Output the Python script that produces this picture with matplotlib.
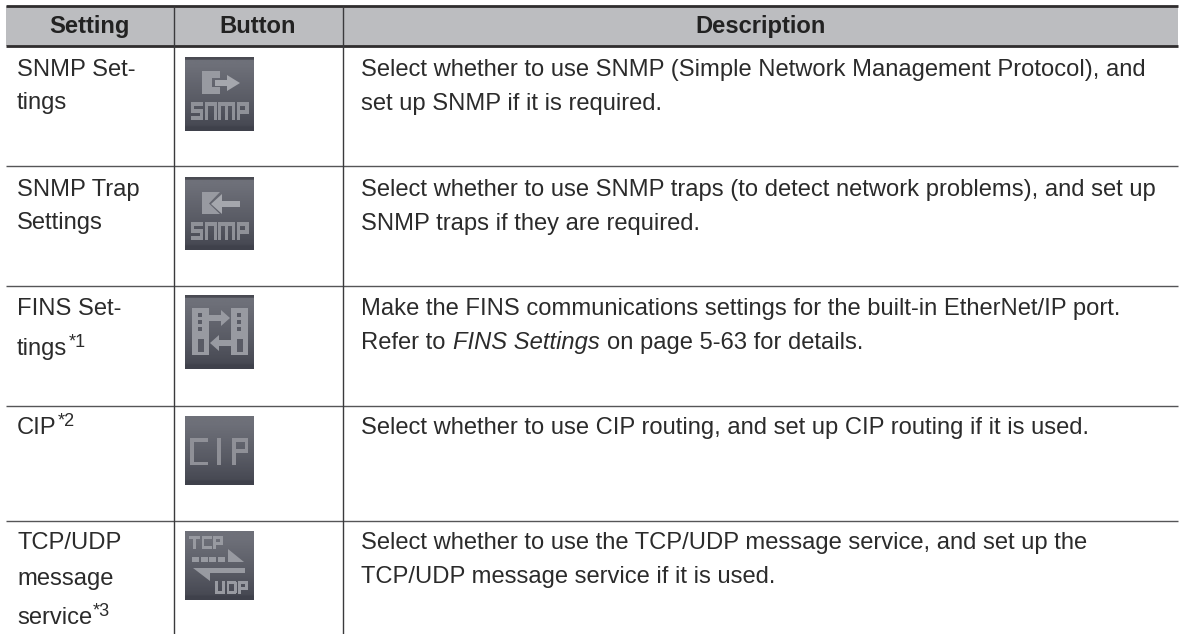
import numpy as np
import matplotlib
matplotlib.use("Agg")
import matplotlib.pyplot as plt
from matplotlib.patches import Polygon, Rectangle

plt.rcParams['font.family'] = ['Liberation Sans', 'DejaVu Sans']

headers = ["Setting", "Button", "Description"]
setting_lines = [
    [[("SNMP Set-", "n")], [("tings", "n")]],
    [[("SNMP Trap", "n")], [("Settings", "n")]],
    [[("FINS Set-", "n")], [("tings", "n"), ("*1", "s")]],
    [[("CIP", "n"), ("*2", "s")]],
    [[("TCP/UDP", "n")], [("message", "n")], [("service", "n"), ("*3", "s")]],
]
description_lines = [
    [[("Select whether to use SNMP (Simple Network Management Protocol), and", "n")],
     [("set up SNMP if it is required.", "n")]],
    [[("Select whether to use SNMP traps (to detect network problems), and set up", "n")],
     [("SNMP traps if they are required.", "n")]],
    [[("Make the FINS communications settings for the built-in EtherNet/IP port.", "n")],
     [("Refer to ", "n"), ("FINS Settings", "i"), (" on page 5-63 for details.", "n")]],
    [[("Select whether to use CIP routing, and set up CIP routing if it is used.", "n")]],
    [[("Select whether to use the TCP/UDP message service, and set up the", "n")],
     [("TCP/UDP message service if it is used.", "n")]],
]
icon_names = ["snmp_out", "snmp_in", "fins", "cip", "tcpudp"]
row_lines_y = [166, 286, 406, 521]
icon_tops = [57, 177, 295, 416, 531]
icon_heights = [74, 73, 74, 69, 69]
setting_baselines = [[76, 109], [196, 229], [315, 355], [434], [549, 585, 624]]
description_baselines = [[76, 110], [196, 230], [315, 349], [434], [549, 583]]

W, H = 1180, 634
fig = plt.figure(figsize=(W / 100, H / 100), dpi=100)
ax = fig.add_axes([0, 0, 1, 1])
ax.set_xlim(0, W)
ax.set_ylim(H, 0)
ax.axis("off")

L, R, T, HB, B = 6, 1178, 6, 46, 634
C1, C2 = 173.5, 342.5
TXT = "#2b2b2b"
LINE = "#3a3a3c"
FS = 17.08
ICON_X, ICON_W = 185, 69
GLYPH = "#989aa1"

ax.add_patch(Rectangle((L, T), R - L, HB - T, fc="#bcbdc0", ec="none", zorder=1))
ax.plot([L, R], [T, T], color="#2f2d2e", lw=2.0, zorder=3, solid_capstyle="butt")
ax.plot([L, R], [HB, HB], color="#2f2d2e", lw=2.0, zorder=3, solid_capstyle="butt")
for y in row_lines_y:
    ax.plot([L, R], [y, y], color="#555557", lw=1.0, zorder=3, solid_capstyle="butt")
for x in (C1, C2):
    ax.plot([x, x], [T, B], color=LINE, lw=1.0, zorder=3, solid_capstyle="butt")

for text, cx in zip(headers, [(L + C1) / 2 - 0.5, (C1 + C2) / 2, (C2 + R) / 2]):
    ax.text(cx, 33, text, ha="center", va="baseline", fontsize=FS, fontweight="bold",
            color="#222222", zorder=4)

renderer = fig.canvas.get_renderer()


def draw_runs(x, base, runs):
    for s, kind in runs:
        kw = dict(fontsize=FS, color=TXT, va="baseline", ha="left", zorder=4)
        y = base
        if kind == "i":
            kw["style"] = "italic"
        if kind == "s":
            kw["fontsize"] = FS * 0.76
            y = base - 8
        leading = len(s) - len(s.lstrip(" "))
        trailing = len(s) - len(s.rstrip(" "))
        t = ax.text(x + leading * 6.6, y, s.strip(" "), **kw)
        x = t.get_window_extent(renderer).x1 + 1 + trailing * 6.6


for sb, db, s, d in zip(setting_baselines, description_baselines, setting_lines, description_lines):
    for b, runs in zip(sb, s):
        draw_runs(17, b, runs)
    for b, runs in zip(db, d):
        draw_runs(361, b, runs)


def glyph_poly(pts, x0, y0, color=GLYPH):
    ax.add_patch(Polygon([(x0 + a, y0 + b) for a, b in pts], closed=True, fc=color, ec="none", zorder=6))


def glyph_rect(a, b, w, h, x0, y0, color=GLYPH):
    ax.add_patch(Rectangle((x0 + a, y0 + b), w, h, fc=color, ec="none", zorder=6))


# Block lettering for the button captions, as (x, y, w, h) in a 0..1 letter cell.
BLOCK = {
    "S": [(0, 0, 1, .2), (0, 0, .25, .6), (0, .4, 1, .2), (.75, .4, .25, .6), (0, .8, 1, .2)],
    "n": [(0, 0, .25, 1), (0, 0, 1, .2), (.75, 0, .25, 1)],
    "m": [(0, 0, .2, 1), (0, 0, 1, .2), (.4, 0, .2, 1), (.8, 0, .2, 1)],
    "P": [(0, 0, .28, 1), (0, 0, 1, .22), (.72, 0, .28, .65), (0, .45, 1, .22)],
    "T": [(0, 0, 1, .22), (.35, 0, .3, 1)],
    "C": [(0, 0, .28, 1), (0, 0, 1, .22), (0, .78, 1, .22)],
    "U": [(0, 0, .28, 1), (.72, 0, .28, 1), (0, .78, 1, .22)],
    "D": [(0, 0, .28, 1), (0, 0, .9, .22), (.72, .1, .28, .8), (0, .78, .9, .22)],
}


def block_word(word, widths, gap, a, b, h, x0, y0, color=GLYPH):
    x = a
    for ch, w in zip(word, widths):
        for (u, v, uw, vh) in BLOCK[ch]:
            glyph_rect(x + u * w, b + v * h, uw * w, vh * h, x0, y0, color)
        x += w + gap


def draw_icon(name, x0, y0, h):
    stops = np.interp(np.linspace(0, 1, 80), [0, .1, .6, .93, .95, 1], [0, 0, .55, 1, 1.2, 1.2])
    top = np.array([0x6e, 0x70, 0x79]) / 255
    bot = np.array([0x47, 0x49, 0x53]) / 255
    img = (top[None, :] + (bot - top)[None, :] * stops[:, None])[:, None, :]
    if name in ("snmp_out", "snmp_in", "fins"):
        img[:3] = np.array([0x4a, 0x4b, 0x53]) / 255
    ax.imshow(np.clip(img, 0, 1), extent=(x0, x0 + ICON_W, y0 + h, y0), aspect="auto", zorder=5,
              interpolation="bilinear")
    if name == "snmp_out":
        glyph_rect(17, 14, 10, 23, x0, y0)
        glyph_rect(17, 14, 18, 7, x0, y0)
        glyph_rect(17, 30, 18, 7, x0, y0)
        glyph_poly([(30, 23), (42, 23), (42, 18), (55, 26), (42, 34), (42, 29), (30, 29)], x0, y0, "#a5a7ad")
        block_word("SnmP", [12, 12, 17, 12], 1.5, 6, 45, 18, x0, y0, "#8f9198")
    elif name == "snmp_in":
        glyph_poly([(17, 15), (35, 15), (24, 26.5), (35, 37), (17, 37)], x0, y0)
        glyph_poly([(55, 24), (37, 24), (37, 17), (26, 27), (37, 37), (37, 30), (55, 30)], x0, y0, "#a5a7ad")
        block_word("SnmP", [12, 12, 17, 12], 1.5, 6, 45, 18, x0, y0, "#8f9198")
    elif name == "fins":
        for bx in (7, 46):
            glyph_rect(bx, 13, 17, 47, x0, y0)
            for dy in (18, 25, 32):
                glyph_rect(bx + 6, dy, 4, 3.5, x0, y0, "#595b65")
            glyph_rect(bx + 6, 44, 6, 13, x0, y0, "#595b65")
        glyph_poly([(24, 20), (36, 20), (36, 15), (45, 23), (36, 31), (36, 26), (24, 26)], x0, y0)
        glyph_poly([(46, 45), (34, 45), (34, 40), (25, 48), (34, 56), (34, 51), (46, 51)], x0, y0)
    elif name == "cip":
        c = "#8f9097"
        glyph_rect(5, 22, 3.5, 27, x0, y0, c)
        glyph_rect(5, 22, 18, 3.5, x0, y0, c)
        glyph_rect(5, 45.5, 18, 3.5, x0, y0, c)
        glyph_rect(32, 22, 3.5, 27, x0, y0, c)
        glyph_rect(47, 22, 3.5, 27, x0, y0, c)
        glyph_rect(47, 22, 16, 3.5, x0, y0, c)
        glyph_rect(47, 33, 16, 3.5, x0, y0, c)
        glyph_rect(59.5, 22, 3.5, 14.5, x0, y0, c)
    elif name == "tcpudp":
        block_word("TCP", [11, 10, 10], 1.5, 4, 5, 13, x0, y0)
        for k in range(4):
            glyph_rect(7 + k * 8.6, 26, 7, 5, x0, y0)
        glyph_poly([(43, 31), (43, 18), (59, 31)], x0, y0)
        glyph_poly([(60, 37), (60, 42), (25, 42), (25, 50), (8, 37)], x0, y0)
        block_word("UDP", [10, 10, 10], 1.5, 30, 50, 13, x0, y0)


for n, yt, h in zip(icon_names, icon_tops, icon_heights):
    draw_icon(n, ICON_X, yt, h)

ax.set_xlim(0, W)
ax.set_ylim(H, 0)
fig.savefig("out.png", dpi=100, facecolor="white")
